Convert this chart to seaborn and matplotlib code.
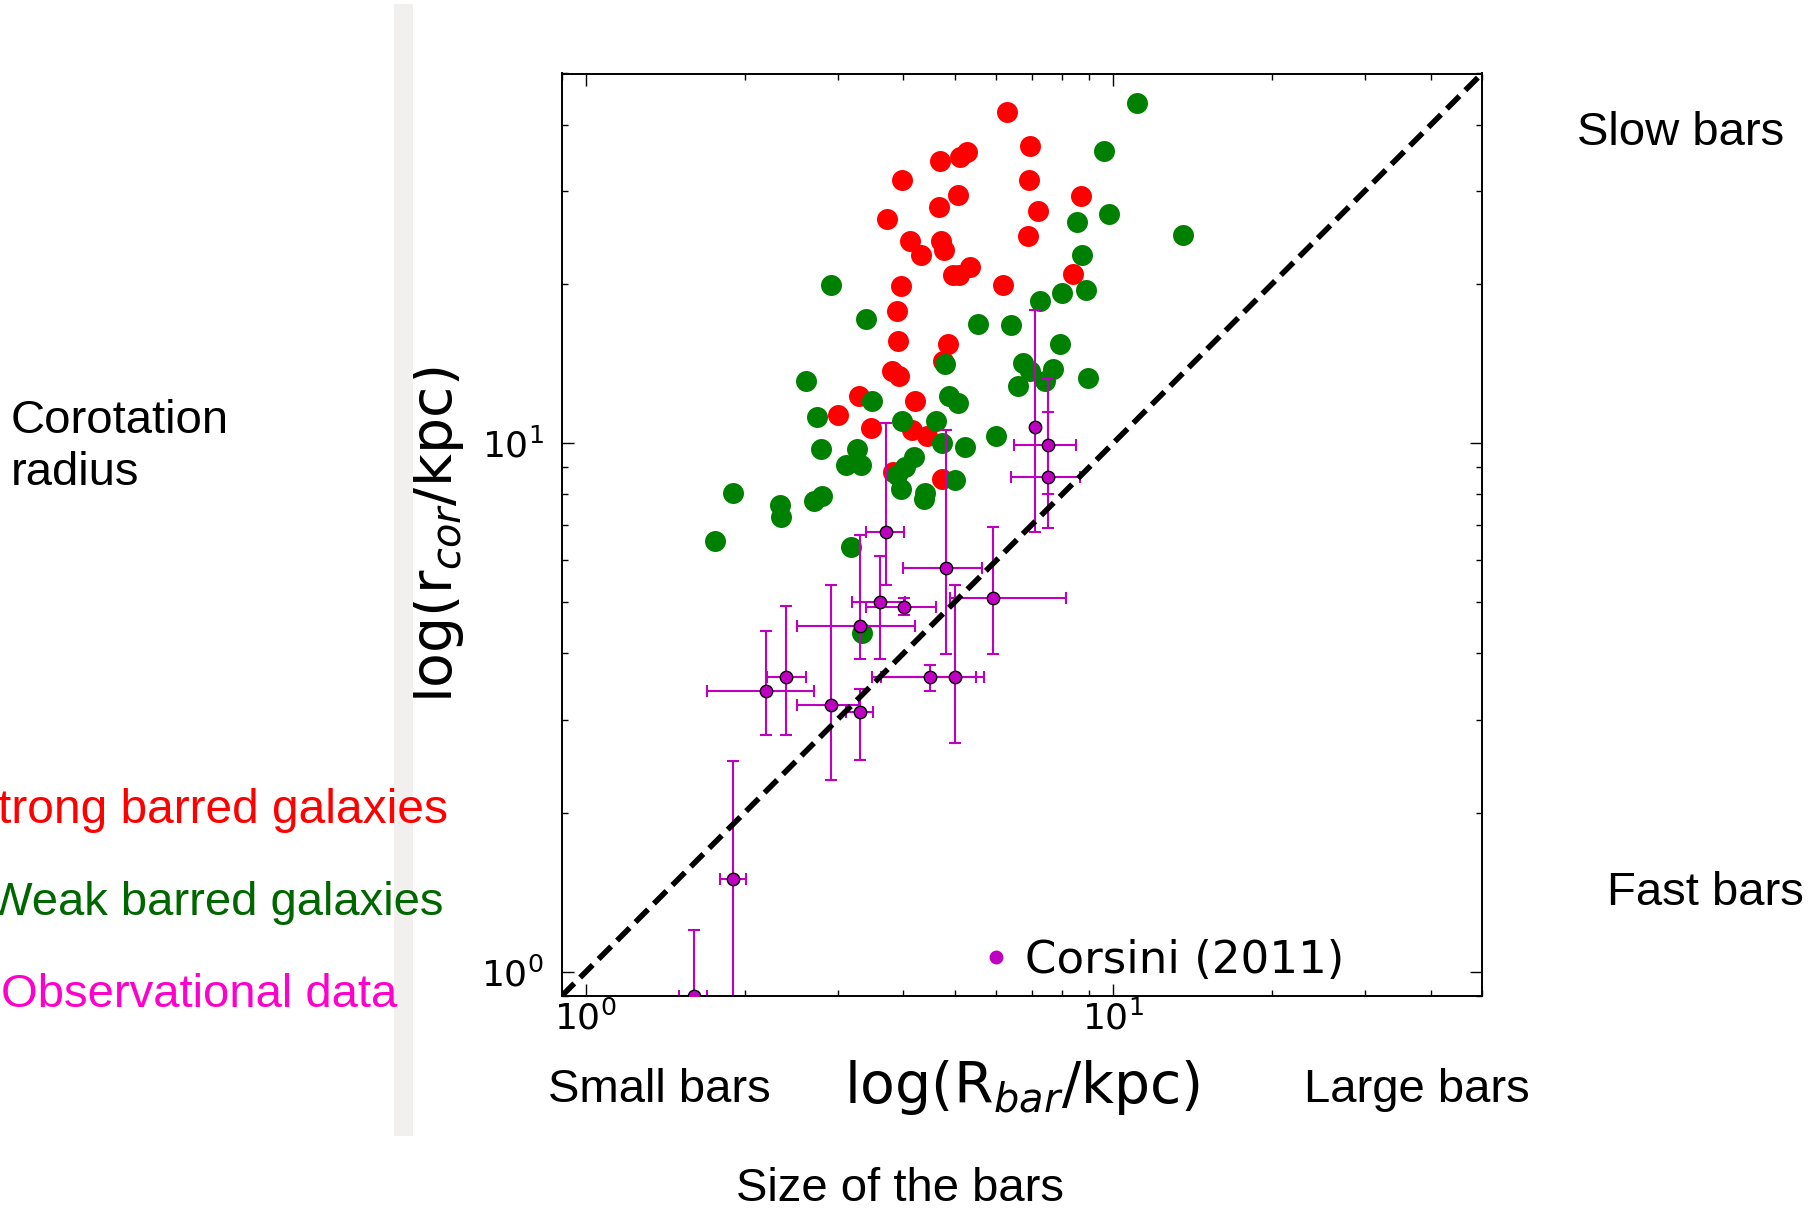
import numpy as np
import matplotlib
matplotlib.use("Agg")
import matplotlib.pyplot as plt
from matplotlib.lines import Line2D
from matplotlib.patches import Rectangle
from matplotlib.ticker import NullFormatter
import seaborn as sns

# ---------------- data ----------------
strong_x = [6.30, 6.96, 4.69, 5.12, 5.28, 3.97, 6.92, 5.08, 8.70, 4.67, 3.73, 7.20,
            4.12, 4.71, 6.90, 4.31, 4.77, 4.96, 5.10, 5.34, 6.17, 8.39, 3.96, 3.89,
            3.91, 4.86, 4.76, 3.80, 3.92, 3.30, 4.21, 3.01, 3.47, 4.15, 4.44, 3.83, 4.73]
strong_y = [42.3, 36.4, 34.1, 34.8, 35.5, 31.4, 31.5, 29.5, 29.3, 28.0, 26.5, 27.5,
            24.1, 24.1, 24.6, 22.7, 23.2, 20.8, 20.8, 21.5, 19.9, 20.9, 19.8, 17.8,
            15.6, 15.4, 14.3, 13.7, 13.4, 12.3, 12.0, 11.3, 10.7, 10.6, 10.3, 8.80, 8.55]

weak_x = [11.10, 9.61, 9.81, 8.52, 13.56, 8.73, 2.91, 8.89, 8.01, 7.26, 3.40, 5.54,
          6.39, 7.91, 6.73, 6.96, 7.70, 8.96, 6.61, 7.42, 4.80, 2.62, 3.48, 4.89,
          5.08, 2.74, 3.97, 4.62, 4.74, 5.23, 5.99, 2.79, 3.26, 3.12, 3.32, 4.19,
          4.02, 3.89, 3.95, 4.40, 4.37, 5.01, 1.90, 2.80, 2.71, 2.33, 2.34, 1.76,
          3.18, 3.34]
weak_y = [43.9, 35.6, 27.1, 26.2, 24.7, 22.7, 19.9, 19.5, 19.2, 18.6, 17.2, 16.8,
          16.7, 15.4, 14.2, 13.7, 13.8, 13.3, 12.8, 13.1, 14.1, 13.1, 12.0, 12.3,
          11.9, 11.2, 11.0, 11.0, 10.0, 9.81, 10.3, 9.76, 9.74, 9.10, 9.08, 9.43,
          9.01, 8.72, 8.20, 8.04, 7.84, 8.52, 8.06, 7.95, 7.76, 7.62, 7.26, 6.52,
          6.36, 4.38]

obs_x = [7.12, 7.52, 7.52, 3.71, 4.81, 5.91, 3.61, 4.01, 3.31, 3.31, 2.91, 2.20,
         2.40, 4.50, 5.01, 1.90, 1.60]
obs_y = [10.73, 9.92, 8.61, 6.80, 5.81, 5.10, 5.01, 4.90, 4.51, 3.10, 3.20, 3.40,
         3.61, 3.61, 3.61, 1.50, 0.90]
obs_x_lo = [7.12, 6.49, 6.41, 3.40, 3.99, 4.91, 3.20, 3.40, 2.51, 3.12, 2.51, 1.70,
            2.21, 3.49, 3.62, 1.80, 1.50]
obs_x_hi = [7.12, 8.51, 8.66, 4.01, 5.63, 8.13, 4.02, 4.61, 4.20, 3.50, 3.29, 2.71,
            2.61, 5.50, 5.68, 2.01, 1.70]
obs_y_lo = [6.79, 6.92, 8.01, 5.40, 3.99, 3.99, 3.90, 4.73, 3.90, 2.51, 2.31, 2.81,
            2.81, 3.40, 2.71, 0.50, 0.60]
obs_y_hi = [17.85, 13.2, 11.43, 10.9, 10.6, 6.93, 6.12, 5.10, 6.70, 3.42, 5.40, 4.41,
            4.92, 3.80, 5.40, 2.50, 1.20]

axis_range = [0.9, 50]
x_label = r"log(R$_{bar}$/kpc)"
y_label = r"log(r$_{cor}$/kpc)"
legend_label = "Corsini (2011)"

# ---------------- style ----------------
sns.set_theme(style="ticks")
plt.rcParams["font.family"] = ["DejaVu Sans"]
plt.rcParams["mathtext.fontset"] = "dejavusans"
plt.rcParams["text.color"] = "black"
plt.rcParams["axes.labelcolor"] = "black"
plt.rcParams["xtick.color"] = "black"
plt.rcParams["ytick.color"] = "black"

W, H = 1819, 1208
fig = plt.figure(figsize=(W / 100, H / 100), dpi=100)
fig.patch.set_facecolor("white")

# axes placement (pixels)
ax_l, ax_r, ax_t, ax_b = 561.7, 1482.0, 73.5, 996.0
ax = fig.add_axes([ax_l / W, 1 - ax_b / H, (ax_r - ax_l) / W, (ax_b - ax_t) / H])
ax.set_facecolor("white")
ax.set_xscale("log")
ax.set_yscale("log")

sns.scatterplot(x=strong_x, y=strong_y, color="#ff0000", s=228, linewidth=0,
                ax=ax, zorder=2, legend=False)
sns.scatterplot(x=weak_x, y=weak_y, color="#008000", s=228, linewidth=0,
                ax=ax, zorder=2.1, legend=False)

ox = np.array(obs_x); oy = np.array(obs_y)
xerr = np.vstack([ox - np.array(obs_x_lo), np.array(obs_x_hi) - ox])
yerr = np.vstack([oy - np.array(obs_y_lo), np.array(obs_y_hi) - oy])
ax.errorbar(ox, oy, xerr=xerr, yerr=yerr, fmt="none", ecolor="#c000c0",
            elinewidth=1.5, capsize=4.4, capthick=1.5, zorder=2.3)

ax.plot(axis_range, axis_range, linestyle=(0, (3.2, 1.5)), color="black",
        linewidth=4.0, zorder=2.5)

sns.scatterplot(x=obs_x, y=obs_y, color="#c000c0", edgecolor="black", s=80,
                linewidth=1.0, ax=ax, zorder=3, legend=False)

ax.set_xlim(axis_range)
ax.set_ylim(axis_range)

for sp in ax.spines.values():
    sp.set_visible(True)
    sp.set_color("black")
    sp.set_linewidth(1.4)

ax.tick_params(which="both", direction="in", top=True, right=True,
               colors="black", labelcolor="black")
ax.tick_params(which="major", length=8.6, width=1.0, labelsize=26)
ax.tick_params(which="minor", length=4.3, width=1.0)
ax.tick_params(axis="x", which="major", pad=3)
ax.tick_params(axis="y", which="major", pad=13)
ax.xaxis.set_minor_formatter(NullFormatter())
ax.yaxis.set_minor_formatter(NullFormatter())

ax.set_xlabel(x_label, fontsize=41, color="black")
ax.set_ylabel(y_label, fontsize=41, color="black")
ax.xaxis.set_label_coords(0.5, -0.067)
ax.yaxis.set_label_coords(-0.104, 0.5)

handle = Line2D([], [], marker="o", color="#c000c0", linestyle="none",
                markersize=10, markeredgewidth=0)
leg = ax.legend([handle], [legend_label], loc="center left",
                bbox_to_anchor=(0.4575, 0.0383), frameon=False, fontsize=32.5,
                handlelength=0.6, handletextpad=0.33, borderpad=0, borderaxespad=0)
for t in leg.get_texts():
    t.set_color("black")

# ---------------- slide annotations ----------------
fig.patches.append(Rectangle((394 / W, 1 - 1136 / H), 19 / W, 1132 / H,
                             transform=fig.transFigure, facecolor="#f1f0ee",
                             edgecolor="none", zorder=0))

slide_font = ["Liberation Sans", "DejaVu Sans"]

def px_text(x, y, s, color="black", ha="left", size=34):
    fig.text(x / W, 1 - y / H, s, fontsize=size, family=slide_font, color=color,
             ha=ha, va="baseline", zorder=5)

px_text(11, 433, "Corotation")
px_text(11, 485, "radius")
px_text(448, 823, "Strong barred galaxies", color="#ff0000", ha="right", size=34.5)
px_text(443, 915, "Weak barred galaxies", color="#006600", ha="right")
px_text(397, 1006.7, "Observational data", color="#ff00cc", ha="right")
px_text(1577, 145, "Slow bars")
px_text(1607, 905, "Fast bars")
px_text(548, 1101.7, "Small bars")
px_text(1304, 1101.7, "Large bars")
px_text(736, 1201, "Size of the bars")

fig.savefig("out.png", dpi=100, facecolor="white")
